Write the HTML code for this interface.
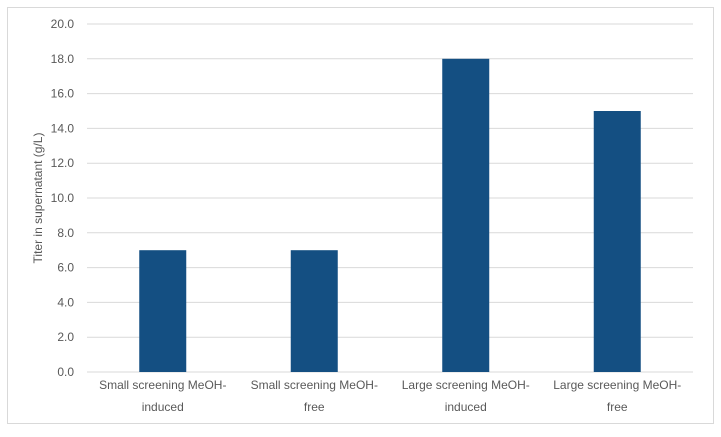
<!DOCTYPE html>
<html><head><meta charset="utf-8"><style>
body{margin:0;background:#fff;width:721px;height:432px;overflow:hidden;font-family:"Liberation Sans",sans-serif}
</style></head><body>
<svg width="721" height="432" xmlns="http://www.w3.org/2000/svg">
<rect x="7.5" y="7.5" width="706" height="416" fill="#fff" stroke="#d9d9d9"/>
<g id="grid"></g><g id="yt"></g><g id="bars"></g><g id="xl"></g>
<text transform="translate(42,198) rotate(-90)" text-anchor="middle" font-size="12" fill="#595959">Titer in supernatant (g/L)</text>
</svg>
<script>
const categories=[["Small screening MeOH-","induced"],["Small screening MeOH-","free"],["Large screening MeOH-","induced"],["Large screening MeOH-","free"]];
const values=[7,7,18,15];
const ticks=[0,2,4,6,8,10,12,14,16,18,20];
const tickLabels=["0.0","2.0","4.0","6.0","8.0","10.0","12.0","14.0","16.0","18.0","20.0"];
const NS="http://www.w3.org/2000/svg";
const x0=87,x1=693,yB=372,yT=24,ymax=20;
const y=v=>yB-(v/ymax)*(yB-yT);
const bw=(x1-x0)/categories.length;
const xc=i=>x0+bw*(i+0.5);
function mk(t,a,p){const e=document.createElementNS(NS,t);for(const k in a)e.setAttribute(k,a[k]);p.appendChild(e);return e;}
const G=document.getElementById('grid'),YT=document.getElementById('yt'),B=document.getElementById('bars'),XL=document.getElementById('xl');
ticks.forEach((t,i)=>{
 const l=mk('line',{x1:x0,x2:x1,y1:y(t),y2:y(t),stroke:'#d9d9d9','stroke-width':1},G);
 
 
 const tx=mk('text',{x:74,y:y(t)+4,'text-anchor':'end','font-size':12,fill:'#595959'},YT);
 tx.textContent=tickLabels[i];
 
 
});
values.forEach((v,i)=>{
 const r=mk('rect',{x:xc(i)-23.5,y:y(v),width:47,height:yB-y(v),fill:'#144f82'},B);
 
 
 categories[i].forEach((s,j)=>{
  const t=mk('text',{x:xc(i),y:389+j*22,'text-anchor':'middle','font-size':12,fill:'#595959'},XL);
  t.textContent=s;
  
  
 });
});
</script>
</body></html>
